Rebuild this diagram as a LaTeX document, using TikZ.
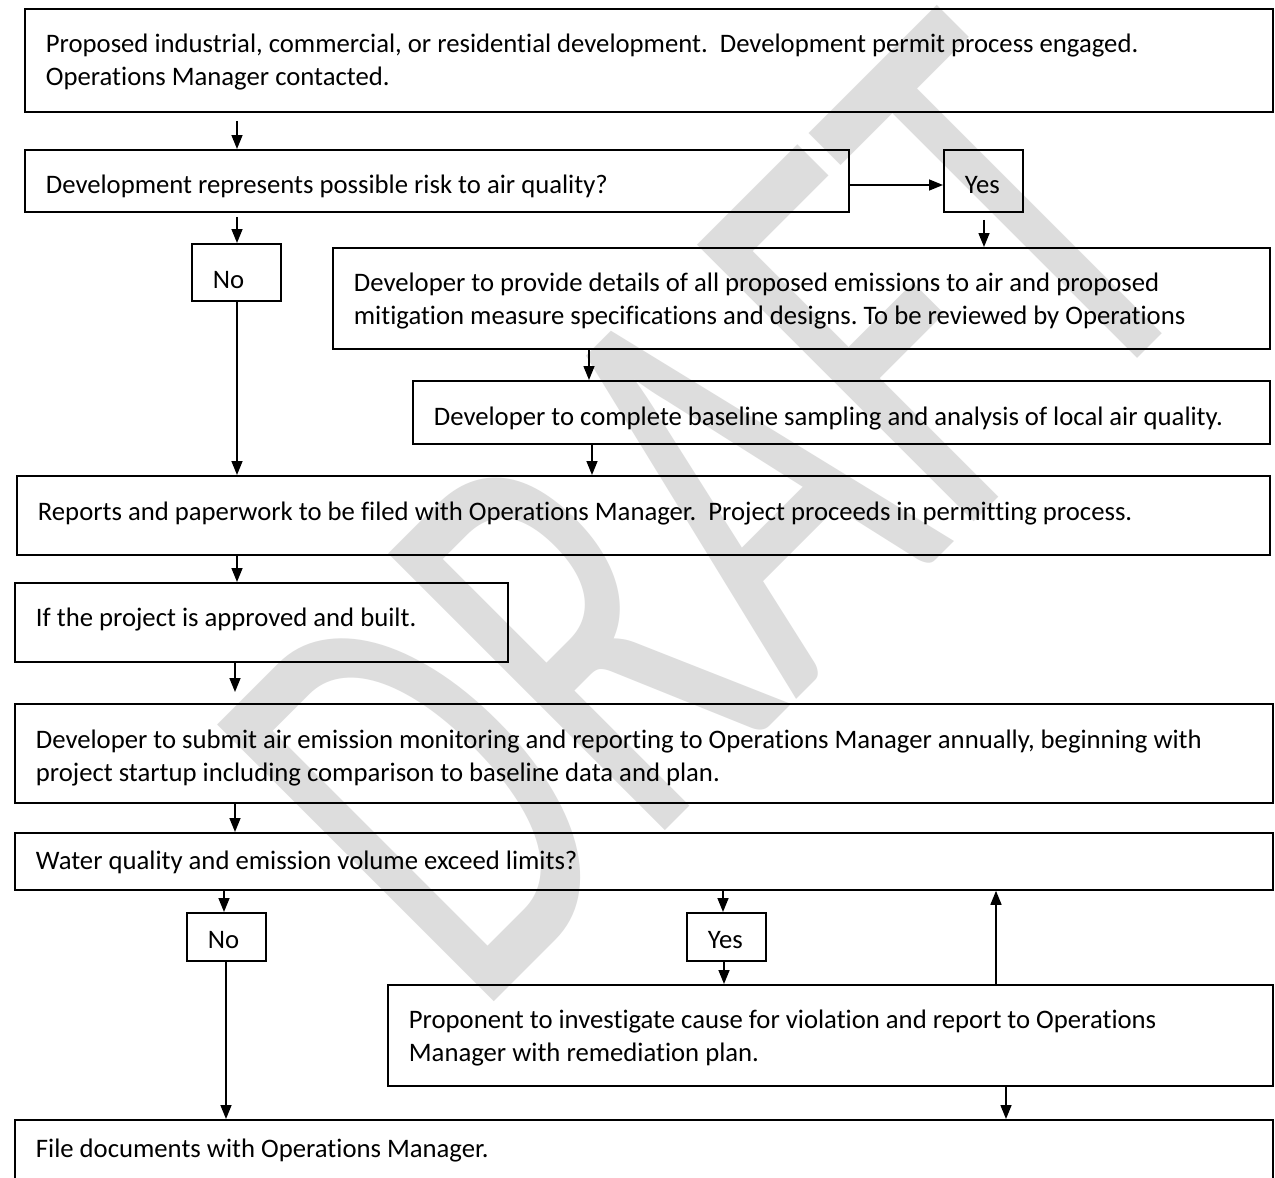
\documentclass[tikz,border=0pt]{standalone}
\usepackage{fontspec}
\setmainfont{Carlito}[Ligatures=NoCommon]
\usetikzlibrary{arrows.meta}
\definecolor{wmgray}{RGB}{221,221,221}
\frenchspacing
% box text: width, height, first-baseline offset, lines
\newcommand\bx[4]{\parbox[c][#2pt][t]{\dimexpr#1pt-42pt\relax}{\raggedright\rule{0pt}{#3pt}#4}}
\begin{document}
\begin{tikzpicture}[x=1pt,y=-1pt,
  box/.style={draw, line width=1.8pt, inner xsep=21pt, inner ysep=0pt, anchor=north west,
    font=\fontsize{26.7}{32.5}\selectfont},
  arr/.style={line width=1.5pt, -{Triangle[length=14pt,width=11pt]}},
  wm/.style={text=wmgray, inner sep=0pt, font=\fontsize{391}{400}\selectfont}]
\useasboundingbox (0,0) rectangle (1275,1178);
\fill[white] (0,0) rectangle (1275,1178);

% watermark
\node[wm, rotate=45, anchor=base west] (mark) at (475,1021) {\scalebox{1}[1.56]{DRAFT}};

% boxes
\node[box] (A) at (24,8) {\bx{1248}{103}{44}{Proposed industrial, commercial, or residential development.\ \ Development permit process engaged.\\Operations Manager contacted.}};
\node[box] (B) at (24,149) {\bx{824}{62}{44}{Development represents possible risk to air quality?}};
\node[box] (Y1) at (943,149) {\bx{79}{62}{44}{Yes}};
\node[box] (N1) at (191,243) {\bx{89}{57}{45}{No}};
\node[box] (C) at (332,247) {\bx{937}{101}{44}{Developer to provide details of all proposed emissions to air and proposed\\mitigation measure specifications and designs. To be reviewed by Operations}};
\node[box] (E) at (412,380) {\bx{857}{63}{45}{Developer to complete baseline sampling and analysis of local air quality.}};
\node[box] (D) at (16,475) {\bx{1253}{79}{45}{Reports and paperwork to be filed with Operations Manager.\ \ Project proceeds in permitting process.}};
\node[box] (F) at (14,582) {\bx{493}{79}{44}{If the project is approved and built.}};
\node[box] (G) at (14,703) {\bx{1258}{99}{45}{Developer to submit air emission monitoring and reporting to Operations Manager annually, beginning with\\project startup including comparison to baseline data and plan.}};
\node[box] (H) at (14,832) {\bx{1258}{57}{37}{Water quality and emission volume exceed limits?}};
\node[box] (N2) at (186,912) {\bx{79}{48}{36}{No}};
\node[box] (Y2) at (686,912) {\bx{79}{48}{36}{Yes}};
\node[box] (J) at (387,984) {\bx{885}{101}{44}{Proponent to investigate cause for violation and report to Operations\\Manager with remediation plan.}};
\node[box] (I) at (14,1119) {\bx{1258}{111}{38}{File documents with Operations Manager.}};

% connector columns and rows
\coordinate (k1) at (237,0);
\coordinate (k2) at (984,0);
\coordinate (k3) at (589,0);
\coordinate (k4) at (592,0);
\coordinate (k5) at (235,0);
\coordinate (k6) at (224,0);
\coordinate (k7) at (226,0);
\coordinate (k8) at (723,0);
\coordinate (k9) at (724,0);
\coordinate (k10) at (996,0);
\coordinate (k11) at (1006,0);
\coordinate (r1) at (0,185);

% connectors
\draw[arr, shorten <=8pt] (A.south -| k1) -- (B.north -| k1);
\draw[arr] (B.east |- r1) -- (Y1.west |- r1);
\draw[arr, shorten <=7pt] (Y1.south -| k2) -- (C.north -| k2);
\draw[arr, shorten <=4pt] (B.south -| k1) -- (N1.north -| k1);
\draw[arr] (N1.south -| k1) -- (D.north -| k1);
\draw[arr] (C.south -| k3) -- (E.north -| k3);
\draw[arr] (E.south -| k4) -- (D.north -| k4);
\draw[arr] (D.south -| k1) -- (F.north -| k1);
\draw[arr, shorten >=11pt] (F.south -| k5) -- (G.north -| k5);
\draw[arr] (G.south -| k5) -- (H.north -| k5);
\draw[arr] (H.south -| k6) -- (N2.north -| k6);
\draw[arr] (N2.south -| k7) -- (I.north -| k7);
\draw[arr] (H.south -| k8) -- (Y2.north -| k8);
\draw[arr] (Y2.south -| k9) -- (J.north -| k9);
\draw[arr] (J.north -| k10) -- (H.south -| k10);
\draw[arr] (J.south -| k11) -- (I.north -| k11);
\end{tikzpicture}
\end{document}
